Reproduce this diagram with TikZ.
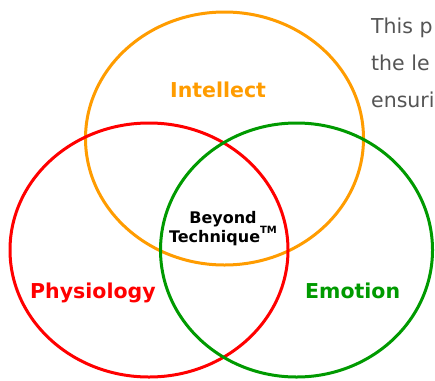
\documentclass[tikz,border=0pt]{standalone}
\usepackage{fontspec}
\setmainfont{DejaVu Sans}
\usetikzlibrary{shapes.geometric}
\definecolor{venorange}{HTML}{FF9C00}
\definecolor{venred}{HTML}{FF0000}
\definecolor{vengreen}{HTML}{009A00}
\definecolor{bodygray}{HTML}{555555}
\tikzset{
  ring/.style={ellipse, draw, line width=3pt, inner sep=0pt,
    minimum width=#1},
  label/.style={font=\bfseries\fontsize{20.5}{24}\selectfont, inner sep=0pt},
  bodytext/.style={font=\fontsize{20.5}{24}\selectfont, text=bodygray,
    inner sep=0pt, anchor=base west},
}
\begin{document}
\begin{tikzpicture}[x=1pt, y=-1pt]
  \useasboundingbox (0,0) rectangle (435,380);
  \clip (0,0) rectangle (435,380);
  \fill[white] (0,0) rectangle (435,380);

  % the three overlapping rings
  \node[ring=278pt, minimum height=253pt, venorange] (intellect) at (224.5,138.5) {};
  \node[ring=278pt, minimum height=254pt, venred] (physiology) at (149,250) {};
  \node[ring=272pt, minimum height=254pt, vengreen] (emotion) at (296.5,250) {};

  % ring labels
  \node[label, text=venorange, anchor=base west] (tIntellect) at (170,97) {Intellect};
  \node[label, text=venred, anchor=base west] (tPhysiology) at (30,298) {Physiology};
  \node[label, text=vengreen, anchor=base west] (tEmotion) at (305,298) {Emotion};

  % centre of the overlap
  \node[font=\bfseries\fontsize{16}{19}\selectfont, anchor=base, inner sep=0pt]
    (tBeyond) at (223,223) {Beyond};
  \node[font=\bfseries\fontsize{16}{19}\selectfont, anchor=base, inner sep=0pt]
    (tTechnique) at (223,242) {Technique\raisebox{0.55em}{\fontsize{10}{12}\selectfont TM}};

  % paragraph beside the diagram
  \node[bodytext] (line1) at (371,33) {This p};
  \node[bodytext] (line2) at (371,70) {the le};
  \node[bodytext] (line3) at (371,107) {ensuri};
\end{tikzpicture}
\end{document}
